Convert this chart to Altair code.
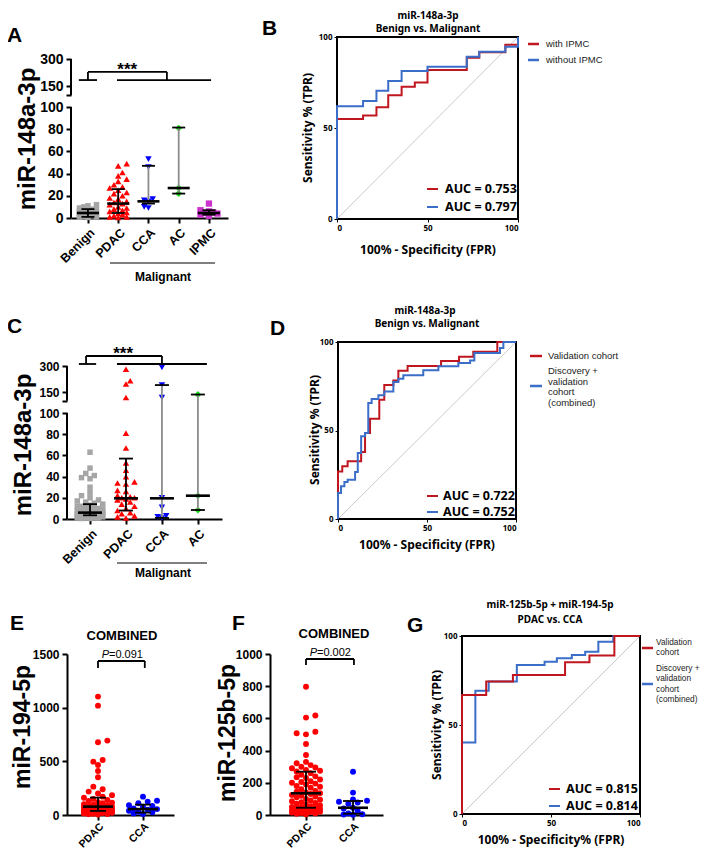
import altair as alt
import numpy as np
import pandas as pd

SANS = "Liberation Sans"
ROCF = "Noto Sans"
RED_ROC = "#c0161f"
BLUE_ROC = "#3a6ec8"
GREY_W = "#8c8c8c"
W, H = 692, 843          # drawing area (page minus 8px margin)

# ---------------- Panel A data ----------------
A_cats = ["Benign", "PDAC", "CCA", "AC", "IPMC"]
A_benign = [12, 11, 10, 9, 8, 7.5, 7, 6.5, 6, 5.5, 5, 5, 4.5, 4, 4, 3.5, 3, 3, 2.5, 2, 2, 1.5, 1, 0.8, 0.5]
A_pdac = [49, 47, 41, 38, 35, 33, 30, 28, 27, 25, 23, 22, 20, 18, 17, 15, 14, 13, 12, 10, 9, 8, 7, 6, 5, 4, 3, 2, 1, 1, 0.5]
A_cca = [53, 46, 17, 16, 15, 10, 9]
A_ac = [81, 27, 22]
A_ipmc = [13, 7, 6, 5, 4.5, 4, 3, 2]
A_median = [4.5, 13, 15, 27, 4.5]
A_q1 = [1, 4.5, 13, 22, 3]
A_q3 = [8, 26, 47, 81.5, 7]

# ---------------- Panel C data ----------------
C_cats = ["Benign", "PDAC", "CCA", "AC"]
C_benign = [63, 48, 43, 41, 39, 38, 30, 25, 22, 20, 18, 17, 16, 15, 14, 13, 12, 12, 11, 10, 10, 9, 9, 8, 8, 8,
            7, 7, 7, 6, 6, 6, 5, 5, 5, 5, 4, 4, 4, 4, 3, 3, 3, 3, 2, 2, 2, 2, 1, 1, 1, 1, 0.5, 0.5]
C_pdac = [281, 215, 196, 137, 81, 67, 53, 46, 40, 35, 34, 33, 27, 26, 22, 21, 20, 20, 19, 18, 16, 14, 12, 10, 8, 6, 5, 3, 2, 1]
C_cca = [292, 190, 137, 20, 11, 3, 2, 1]
C_ac = [144, 22, 8.5]
C_median = [6, 19.5, 19.5, 22]
C_q1 = [3.5, 8, 1, 8.5]
C_q3 = [14, 57, 190, 144]

# ---------------- Panel E / F data ----------------
EF_cats = ["PDAC", "CCA"]
E_pdac = [1103, 1019, 693, 678, 513, 497, 466, 410, 351, 264, 240, 218, 200, 185, 171, 160, 150, 140, 130, 120,
          115, 110, 100, 95, 90, 85, 80, 78, 75, 72, 70, 65, 60, 58, 55, 52, 50, 48, 45, 42, 40, 38, 35, 33, 30,
          28, 25, 22, 20, 18, 15, 12, 10, 8, 5]
E_cca = [171, 133, 125, 110, 92, 85, 78, 62, 55, 50, 40, 31, 25, 15, 10]
E_median = [78, 55]
E_q1 = [38, 22]
E_q3 = [162, 97]

F_pdac = [797, 618, 605, 517, 508, 501, 441, 373, 330, 321, 310, 300, 295, 290, 280, 275, 270, 260, 250, 240,
          235, 230, 220, 210, 205, 200, 195, 190, 180, 175, 170, 160, 150, 145, 140, 135, 130, 125, 120, 115,
          110, 100, 95, 90, 85, 80, 75, 70, 65, 60, 55, 50, 48, 45, 42, 40, 38, 35, 32, 30, 28, 25, 22, 20, 18,
          15, 12, 10, 8, 5]
F_cca = [269, 139, 97, 88, 82, 78, 70, 45, 40, 25, 10, 5, 3, 2]
F_median = [135, 45]
F_q1 = [45, 8]
F_q3 = [269, 87]

# ---------------- ROC data (FPR %, TPR %) ----------------
B_with_fpr = [0, 0, 14.4, 21.8, 28.3, 35.7, 43, 50, 71.7, 78.6, 93, 100]
B_with_tpr = [0, 55, 56.8, 61.4, 68, 72.7, 75, 81.9, 88.6, 91.6, 95.8, 100]
B_without_fpr = [0, 0, 14.4, 21.8, 28.3, 35.7, 50, 71.7, 78.6, 93, 100]
B_without_tpr = [0, 62, 64.8, 70.5, 75.8, 81.3, 83.7, 89.2, 91.9, 94.7, 100]

D_val_fpr = [0, 0, 2.4, 5.4, 13, 15.2, 18, 23.2, 26, 31.1, 33.9, 39.1, 57.9, 68, 76, 89.5, 100]
D_val_tpr = [0, 26.9, 29.8, 32.6, 37.9, 48.6, 56.7, 67.4, 75.7, 78.2, 83.8, 86.4, 89.3, 91.7, 94.5, 100, 100]
D_comb_fpr = [0, 0, 1.7, 3.6, 5.4, 9.6, 11.1, 13, 15.2, 17, 18.9, 22.7, 26, 31.1, 33.9, 36.7, 47.9, 56.4, 67.6,
              74.2, 76.6, 91, 92.9, 100]
D_comb_tpr = [0, 14.7, 18.5, 20.9, 22.2, 26.6, 37.3, 46.7, 48.6, 65.5, 67.8, 69.9, 72.1, 77.4, 79.3, 81.2, 84,
              86.3, 88.1, 89.6, 93.8, 96.6, 100, 100]

G_val_fpr = [0, 0, 13.6, 28.6, 57.9, 71.6, 85.6, 100]
G_val_tpr = [0, 66.9, 74.4, 78.1, 85.2, 89, 100, 100]
G_comb_fpr = [0, 0, 7.5, 15, 30.8, 46.4, 53.3, 61.7, 69.2, 76.6, 85, 100]
G_comb_tpr = [0, 40.2, 69.2, 74.4, 83.7, 85.6, 87.5, 89.3, 91.2, 96.8, 100, 100]


# ---------------- helpers (positions given in page pixels) ----------------
def swarm(values, ypx, d, maxoff):
    vals = np.asarray(values, float)
    order = np.argsort(vals, kind="stable")
    placed = []
    out = np.zeros(len(vals))
    s = d * 0.85
    K = max(0, int(maxoff / s))
    for n_i, i in enumerate(order):
        y = ypx(vals[i])
        cands = [0.0]
        for k in range(1, K + 1):
            cands += [k * s, -k * s] if n_i % 2 == 0 else [-k * s, k * s]
        best, bestd = None, -1
        for c in cands:
            md = min([((c - px) ** 2 + (y - py) ** 2) ** 0.5 for px, py in placed] + [1e9])
            if md >= d:
                best = c
                break
            if md > bestd:
                best, bestd = c, md
        placed.append((best, y))
        out[i] = best
    return out


def txt(s, X, Y, size, weight="normal", font=SANS, align="left", baseline="alphabetic",
        color="black", style="normal", angle=0):
    kw = dict(align=align, baseline=baseline, font=font, fontSize=size, fontWeight=weight,
              fontStyle=style, color=color)
    if angle:
        kw["angle"] = angle
    return alt.Chart(pd.DataFrame({"t": [s]})).mark_text(**kw).encode(
        x=alt.value(X - 8), y=alt.value(Y - 8), text="t:N")


def hline(X1, X2, Y, color="black", w=1.5):
    return alt.Chart(pd.DataFrame({"a": [0]})).mark_rule(color=color, strokeWidth=w).encode(
        x=alt.value(X1 - 8), x2=alt.value(X2 - 8), y=alt.value(Y - 8))


def scatter_panel(cats, groups, colors, shapes, sizes, med, q1, q3, wcol,
                  X0, X1, xdom, ydom, Yrng, yticks, brk, tick_fs, xlab_fs, xlab_pad,
                  med_half, cap_half, d, maxoff, segs, star=None):
    step = (X1 - X0) / (xdom[1] - xdom[0])
    yr = [y - 8 for y in Yrng]

    def ypx(v):
        return float(np.interp(v, ydom, yr))

    rows = []
    for i, (c, vals) in enumerate(zip(cats, groups)):
        offs = swarm(vals, ypx, d, maxoff[i])
        for v, o in zip(vals, offs):
            rows.append({"value": v, "xj": i + o / step, "col": colors[i], "shp": shapes[i], "sz": sizes[i]})
    pts = pd.DataFrame(rows)

    xs = alt.Scale(domain=xdom, range=[X0 - 8, X1 - 8], nice=False, zero=False)
    ys = alt.Scale(domain=ydom, range=yr, nice=False, zero=False)
    label_expr = "[" + ",".join(f"'{c}'" for c in cats) + "][datum.value]"
    xaxis = alt.Axis(orient="bottom", offset=-(H - yr[0]), values=list(range(len(cats))),
                     labelExpr=label_expr, labelAngle=315, labelFont=SANS, labelFontSize=xlab_fs,
                     labelFontWeight="bold", labelColor="black", labelPadding=xlab_pad, labelOverlap=False,
                     tickSize=5, tickWidth=2, tickColor="black", domainWidth=2, domainColor="black",
                     grid=False, title=None)
    ykw = dict(orient="left", offset=-(X0 - 8), values=yticks, format="d", labelFont=SANS,
               labelFontSize=tick_fs, labelFontWeight="bold", labelColor="black", labelPadding=3,
               labelOverlap=False, tickSize=5, tickWidth=2, tickColor="black", domain=brk is None,
               domainWidth=2, domainColor="black", grid=False, title=None)
    if brk is not None:
        ykw["labelExpr"] = f"datum.value == {brk} ? '' : datum.label"
    yaxis = alt.Axis(**ykw)

    def X(f):
        return alt.X(f, scale=xs, axis=xaxis)

    def Y(f):
        return alt.Y(f, scale=ys, axis=yaxis)

    layers = [alt.Chart(pts).mark_point(filled=True, opacity=1, strokeWidth=0).encode(
        x=X("xj:Q"), y=Y("value:Q"),
        color=alt.Color("col:N", scale=None),
        shape=alt.Shape("shp:N", scale=None),
        size=alt.Size("sz:Q", scale=None))]

    sm = pd.DataFrame({"i": list(range(len(cats))), "med": med, "q1": q1, "q3": q3, "wc": wcol})
    sm["ml"] = sm["i"] - med_half / step
    sm["mr"] = sm["i"] + med_half / step
    sm["cl"] = sm["i"] - cap_half / step
    sm["cr"] = sm["i"] + cap_half / step
    base = alt.Chart(sm)
    layers.append(base.mark_rule(strokeWidth=1.8).encode(
        x=X("i:Q"), y=Y("q1:Q"), y2="q3:Q", color=alt.Color("wc:N", scale=None)))
    layers.append(base.mark_rule(strokeWidth=1.8, color="black").encode(x=X("cl:Q"), x2="cr:Q", y=Y("q1:Q")))
    layers.append(base.mark_rule(strokeWidth=1.8, color="black").encode(x=X("cl:Q"), x2="cr:Q", y=Y("q3:Q")))
    layers.append(base.mark_rule(strokeWidth=2.6, color="black").encode(x=X("ml:Q"), x2="mr:Q", y=Y("med:Q")))

    if brk is not None:
        ax = pd.DataFrame({"x": [xdom[0], xdom[0]], "y1": [0, brk], "y2": [100, ydom[-1]]})
        layers.append(alt.Chart(ax).mark_rule(strokeWidth=2, color="black").encode(
            x=X("x:Q"), y=Y("y1:Q"), y2="y2:Q"))
    sg = pd.DataFrame(segs, columns=["x1", "y1", "x2", "y2"])
    layers.append(alt.Chart(sg).mark_rule(strokeWidth=1.8, color="black").encode(
        x=X("x1:Q"), x2="x2:Q", y=Y("y1:Q"), y2="y2:Q"))
    if star is not None:
        layers.append(alt.Chart(pd.DataFrame({"x": [star[0]], "y": [star[1]], "t": ["***"]})).mark_text(
            font=SANS, fontSize=17, fontWeight="bold", baseline="alphabetic", align="center").encode(
            x=X("x:Q"), y=Y("y:Q"), text="t:N"))
    return alt.layer(*layers)


def roc_panel(curves, X0, X1, Ytop, Ybot):
    xs = alt.Scale(domain=[0, 100], range=[X0 - 8, X1 - 8], nice=False, zero=False)
    ys = alt.Scale(domain=[0, 100], range=[Ybot - 8, Ytop - 8], nice=False, zero=False)
    common = dict(values=[0, 50, 100], labelFont=ROCF, labelFontSize=8, labelFontWeight="bold",
                  labelColor="black", labelPadding=2, tickSize=3, tickWidth=1, tickColor="black",
                  domain=False, grid=False, title=None)
    xaxis = alt.Axis(orient="bottom", offset=-(H - (Ybot - 8)), **common)
    yaxis = alt.Axis(orient="left", offset=-(X0 - 8), **common)

    def X(f):
        return alt.X(f, scale=xs, axis=xaxis)

    def Y(f):
        return alt.Y(f, scale=ys, axis=yaxis)

    layers = [alt.Chart(pd.DataFrame({"x": [0], "x2": [100], "y": [0], "y2": [100]})).mark_rect(
        fillOpacity=0, stroke="black", strokeWidth=2).encode(x=X("x:Q"), x2="x2:Q", y=Y("y:Q"), y2="y2:Q")]
    layers.append(alt.Chart(pd.DataFrame({"x": [0, 100], "y": [0, 100]})).mark_line(
        color="#b4b4b4", strokeWidth=0.7).encode(x=X("x:Q"), y=Y("y:Q")))
    for f, t, col in curves:
        df = pd.DataFrame({"fpr": f, "tpr": t, "o": list(range(len(f)))})
        layers.append(alt.Chart(df).mark_line(interpolate="step-after", color=col, strokeWidth=2).encode(
            x=X("fpr:Q"), y=Y("tpr:Q"), order="o:Q"))
    return alt.layer(*layers)


def roc_texts(title_lines, legend, aucs, ytitle_pos, xtitle, xtitle_pos, letter, leg_fs=9.5):
    out = []
    for s, X, Y in title_lines:
        out.append(txt(s, X, Y, 10, "bold", ROCF, "center", "middle"))
    for (X1, X2, LY, col, TX, lines) in legend:
        out.append(hline(X1, X2, LY, col, 2.5))
        for s, yy in lines:
            out.append(txt(s, TX, yy, leg_fs, "normal", SANS, "left", "middle", "#222222"))
    for (X1, X2, LY, col, TX, s) in aucs:
        out.append(hline(X1, X2, LY, col, 2))
        out.append(txt(s, TX, LY, 12.5, "bold", ROCF, "left", "middle"))
    out.append(txt("Sensitivity % (TPR)", ytitle_pos[0], ytitle_pos[1], 12, "bold", ROCF, "center", "middle",
                   angle=270))
    out.append(txt(xtitle, xtitle_pos[0], xtitle_pos[1], 12, "bold", ROCF, "center", "middle"))
    out.append(txt(letter[0], letter[1], letter[2], 21, "bold", SANS))
    return out


# ---------------- Panel A ----------------
panelA = scatter_panel(
    A_cats, [A_benign, A_pdac, A_cca, A_ac, A_ipmc],
    ["#a6a6a6", "#ff0000", "#0000ff", "#11dd11", "#cc33cc"],
    ["square", "triangle-up", "triangle-down", "diamond", "square"], [30, 42, 42, 48, 40],
    A_median, A_q1, A_q3, ["black", "black", GREY_W, GREY_W, "black"],
    71, 228, [-0.56, 4.63], [0, 100, 150, 300], [218, 107, 86, 59],
    [0, 20, 40, 60, 80, 100, 128, 150, 300], 128, 14, 12.5, 3, 11, 6.5, 5, [10, 11, 8, 0, 10],
    [(0, 228, 2.61, 228), (0, 228, 0, 183), (2.61, 228, 2.61, 183),
     (-0.3, 183, 0.3, 183), (0.96, 183, 4.07, 183)], star=(1.3, 211))
textsA = [hline(110, 215, 263, "black", 1),
          txt("Malignant", 163, 281, 12, "bold", SANS, "center"),
          txt("miR-148a-3p", 28, 139, 24, "bold", SANS, "center", "middle", angle=270),
          txt("A", 7, 42, 21, "bold", SANS)]

# ---------------- Panel B ----------------
panelB = roc_panel([(B_with_fpr, B_with_tpr, RED_ROC), (B_without_fpr, B_without_tpr, BLUE_ROC)],
                   337, 518, 37, 219)
textsB = roc_texts([("miR-148a-3p", 428, 16), ("Benign vs. Malignant", 428, 29)],
                   [(528, 539, 44, RED_ROC, 546, [("with IPMC", 44)]),
                    (528, 539, 60, BLUE_ROC, 546, [("without IPMC", 60)])],
                   [(427, 438, 189, RED_ROC, 445, "AUC = 0.753"), (427, 438, 207, BLUE_ROC, 445, "AUC = 0.797")],
                   (308, 128), "100% - Specificity (FPR)", (428, 250), ("B", 262, 35))

# ---------------- Panel C ----------------
panelC = scatter_panel(
    C_cats, [C_benign, C_pdac, C_cca, C_ac],
    ["#a6a6a6", "#ff0000", "#0000ff", "#11dd11"],
    ["square", "triangle-up", "triangle-down", "diamond"], [30, 42, 42, 48],
    C_median, C_q1, C_q3, ["black", "black", GREY_W, GREY_W],
    67, 222, [-0.64, 3.67], [0, 100, 150, 300], [519, 413, 392, 366],
    [0, 20, 40, 60, 80, 100, 129, 150, 300], 129, 12, 12.5, 3, 12, 7, 5, [14, 12, 8, 0],
    [(-0.11, 357.7, 2.0, 357.7), (-0.11, 357.7, -0.11, 311.5), (2.0, 357.7, 2.0, 311.5),
     (-0.31, 311.5, 0.17, 311.5), (0.75, 311.5, 3.25, 311.5)], star=(0.92, 340))
textsC = [hline(117, 207, 563, "black", 1),
          txt("Malignant", 163, 577, 12, "bold", SANS, "center"),
          txt("miR-148a-3p", 24, 445, 24, "bold", SANS, "center", "middle", angle=270),
          txt("C", 7, 333, 21, "bold", SANS)]

# ---------------- Panel D ----------------
panelD = roc_panel([(D_val_fpr, D_val_tpr, RED_ROC), (D_comb_fpr, D_comb_tpr, BLUE_ROC)],
                   338, 516, 342, 519)
textsD = roc_texts([("miR-148a-3p", 425, 311), ("Benign vs. Malignant", 427, 324)],
                   [(530, 542, 356, RED_ROC, 548, [("Validation cohort", 356)]),
                    (530, 542, 386, BLUE_ROC, 548, [("Discovery +", 371), ("validation", 381.5),
                                                     ("cohort", 392), ("(combined)", 402.5)])],
                   [(427, 438, 496, RED_ROC, 443, "AUC = 0.722"), (427, 438, 512, BLUE_ROC, 443, "AUC = 0.752")],
                   (315, 430), "100% - Specificity (FPR)", (427, 545), ("D", 270, 335))

# ---------------- Panel E ----------------
panelE = scatter_panel(
    EF_cats, [E_pdac, E_cca], ["#ff0000", "#0000ff"], ["circle", "circle"], [35, 35],
    E_median, E_q1, E_q3, ["black", "black"],
    67, 174, [-0.689, 1.689], [0, 1500], [815, 654], [0, 500, 1000, 1500], None, 12, 10.5, 1,
    15, 8, 5.5, [16, 16],
    [(0, 1435, 1.04, 1435), (0, 1435, 0, 1370), (1.04, 1435, 1.04, 1370)])
textsE = [txt("COMBINED", 122, 640, 13, "bold", SANS, "center"),
          txt("P", 109, 658, 11, "normal", SANS, "right", style="italic"),
          txt("=0.091", 109, 658, 11, "normal", SANS, "left"),
          txt("miR-194-5p", 23, 727, 23, "bold", SANS, "center", "middle", angle=270),
          txt("E", 10, 630, 21, "bold", SANS)]

# ---------------- Panel F ----------------
panelF = scatter_panel(
    EF_cats, [F_pdac, F_cca], ["#ff0000", "#0000ff"], ["circle", "circle"], [35, 35],
    F_median, F_q1, F_q3, ["black", "black"],
    270, 383, [-0.766, 1.638], [0, 1000], [815, 654], [0, 200, 400, 600, 800, 1000], None, 12, 10.5, 1,
    15, 10, 5.5, [15, 15],
    [(0, 969, 1.02, 969), (0, 969, 0, 932), (1.02, 969, 1.02, 932)])
textsF = [txt("COMBINED", 334, 638, 13, "bold", SANS, "center"),
          txt("P", 317, 656, 11, "normal", SANS, "right", style="italic"),
          txt("=0.002", 317, 656, 11, "normal", SANS, "left"),
          txt("miR-125b-5p", 228, 733, 23, "bold", SANS, "center", "middle", angle=270),
          txt("F", 232, 630, 21, "bold", SANS)]

# ---------------- Panel G ----------------
panelG = roc_panel([(G_comb_fpr, G_comb_tpr, BLUE_ROC), (G_val_fpr, G_val_tpr, RED_ROC)],
                   462, 640, 636, 814)
textsG = roc_texts([("miR-125b-5p + miR-194-5p", 550, 605), ("PDAC vs. CCA", 550, 620)],
                   [(642, 653, 648, RED_ROC, 656, [("Validation", 643), ("cohort", 653)]),
                    (642, 653, 684, BLUE_ROC, 656, [("Discovery +", 669), ("validation", 679),
                                                     ("cohort", 690), ("(combined)", 700)])],
                   [(549, 560, 789, RED_ROC, 566, "AUC = 0.815"), (549, 560, 806, BLUE_ROC, 566, "AUC = 0.814")],
                   (437, 725), "100% - Specificity% (FPR)", (551, 840), ("G", 407, 632), leg_fs=8.3)

chart = alt.layer(
    panelA, panelB, panelC, panelD, panelE, panelF, panelG,
    *textsA, *textsB, *textsC, *textsD, *textsE, *textsF, *textsG
).resolve_scale(x="independent", y="independent").properties(
    width=W, height=H, padding=0, autosize=alt.AutoSizeParams(type="none")
).configure_view(stroke=None)

chart.save("out.html", embed_options={"renderer": "svg", "actions": False})
